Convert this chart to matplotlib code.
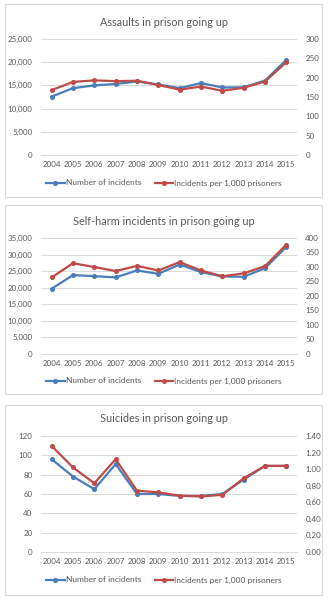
import matplotlib
matplotlib.use("Agg")
import matplotlib.pyplot as plt
from matplotlib.patches import Rectangle
from matplotlib.ticker import FuncFormatter, MultipleLocator

plt.rcParams['font.family'] = ['Lato', 'DejaVu Sans']

# --- data ---
years = ['2004', '2005', '2006', '2007', '2008', '2009',
         '2010', '2011', '2012', '2013', '2014', '2015']

assault_count = [12600, 14400, 15000, 15300, 15850, 15200,
                 14400, 15500, 14550, 14600, 16050, 20500]
assault_rate = [168, 189, 193, 191, 192, 181,
                169, 177, 166, 174, 190, 240]

selfharm_count = [19700, 23800, 23500, 23100, 25200, 24200,
                  27000, 24700, 23400, 23300, 25900, 32300]
selfharm_rate = [264, 313, 300, 286, 304, 288,
                 317, 288, 268, 278, 303, 377]

suicide_count = [96, 78, 65, 91, 60, 60, 58, 58, 60, 75, 89, 89]
suicide_rate = [1.28, 1.02, 0.83, 1.12, 0.74, 0.72,
                0.68, 0.67, 0.69, 0.89, 1.04, 1.04]

titles = ['Assaults in prison going up',
          'Self-harm incidents in prison going up',
          'Suicides in prison going up']
legend_labels = ['Number of incidents', 'Incidents per 1,000 prisoners']

BLUE = '#4A7EBB'
RED = '#BE4B48'
TICK = '#595959'
GRID = '#D9D9D9'

W, H = 328, 600
fig = plt.figure(figsize=(W / 100, H / 100), dpi=100)


def fx(px):
    return px / W


def fy(py):
    return 1 - py / H


def panel(box, plot, title_y, legend_y, title, count, rate,
          lmax, lstep, rmax, rstep, lfmt, rfmt):
    # box: (x0, y0, x1, y1) in px, plot: (x0, ytop, x1, ybottom)
    x0, y0, x1, y1 = box
    fig.patches.append(Rectangle((fx(x0), fy(y1)), fx(x1 - x0), (y1 - y0) / H,
                                 transform=fig.transFigure, fill=False,
                                 edgecolor='#D9D9D9', linewidth=0.8))
    px0, pyt, px1, pyb = plot
    ax = fig.add_axes([fx(px0), fy(pyb), fx(px1 - px0), (pyb - pyt) / H])
    ax2 = ax.twinx()
    xs = range(len(years))
    l1, = ax.plot(xs, count, color=BLUE, lw=1.6, marker='o', ms=2.6,
                  label=legend_labels[0], zorder=3)
    l2, = ax2.plot(xs, rate, color=RED, lw=1.6, marker='o', ms=2.6,
                   label=legend_labels[1], zorder=3)
    ax.set_xlim(-0.5, len(years) - 0.5)
    ax.set_ylim(0, lmax)
    ax2.set_ylim(0, rmax)
    ax.yaxis.set_major_locator(MultipleLocator(lstep))
    ax2.yaxis.set_major_locator(MultipleLocator(rstep))
    ax.yaxis.set_major_formatter(FuncFormatter(lfmt))
    ax2.yaxis.set_major_formatter(FuncFormatter(rfmt))
    ax.set_xticks(list(xs))
    ax.set_xticklabels(years)
    ax.grid(axis='y', color=GRID, lw=0.7)
    ax.set_axisbelow(True)
    for a in (ax, ax2):
        for s in a.spines.values():
            s.set_visible(False)
        a.tick_params(length=0, labelsize=5.7, labelcolor=TICK, pad=4)
    ax.spines['bottom'].set_visible(True)
    ax.spines['bottom'].set_color(GRID)
    ax.spines['bottom'].set_linewidth(0.7)
    ax.tick_params(axis='y', pad=6)
    ax2.tick_params(axis='y', pad=6)
    fig.text(fx((x0 + x1) / 2), fy(title_y), title, ha='center', va='center',
             fontsize=7.8, color=TICK)
    fig.legend(handles=[l1, l2], loc='center', ncol=2, frameon=False,
               bbox_to_anchor=(fx(164), fy(legend_y)), fontsize=6.0,
               labelcolor=TICK, handlelength=2.2, columnspacing=1.6,
               handletextpad=0.15)


def thousands(v, p):
    return f'{int(v):,}'


def integer(v, p):
    return f'{int(v)}'


def twodec(v, p):
    return f'{v:.2f}'


panel((5, 4, 322, 197), (41, 39, 297, 155), 23, 183, titles[0],
      assault_count, assault_rate, 25000, 5000, 300, 50, thousands, integer)
panel((5, 205, 322, 394), (41, 238, 297, 354), 221, 381, titles[1],
      selfharm_count, selfharm_rate, 35000, 5000, 400, 50, thousands, integer)
panel((5, 405, 322, 595), (41, 436, 297, 552), 419, 580, titles[2],
      suicide_count, suicide_rate, 120, 20, 1.4, 0.2, integer, twodec)

fig.savefig('out.png', dpi=100)
